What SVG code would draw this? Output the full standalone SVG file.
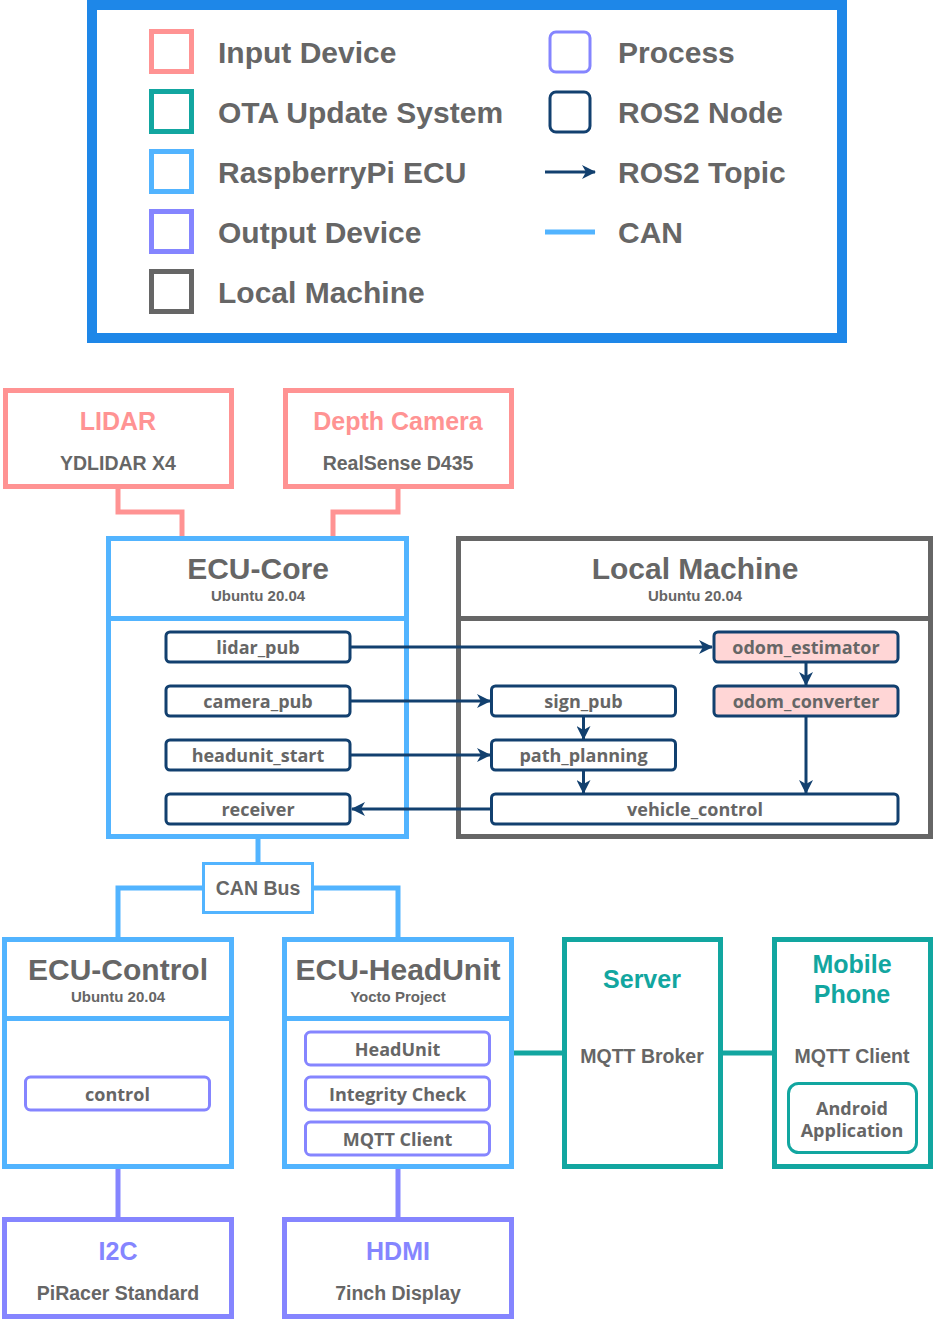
<svg xmlns="http://www.w3.org/2000/svg" width="935" height="1321" viewBox="0 0 935 1321">
<style>
.bg{fill:#ffffff}
.t{font-family:"Liberation Sans",Arial,sans-serif;font-weight:bold;fill:#666666;text-anchor:middle}
.lg{font-family:"Liberation Sans",Arial,sans-serif;font-weight:bold;fill:#666666;font-size:30px}
.n{font-family:"Open Sans","Noto Sans",sans-serif;font-weight:700;fill:#666666;text-anchor:middle;font-size:18px}
.pink{fill:#fff;stroke:#ff9393;stroke-width:5}
.blue{fill:#fff;stroke:#52b4ff;stroke-width:5}
.gray{fill:#fff;stroke:#666666;stroke-width:5}
.teal{fill:#fff;stroke:#12a6a0;stroke-width:5}
.purp{fill:#fff;stroke:#8585ff;stroke-width:5}
.node{fill:#fff;stroke:#12406f;stroke-width:3}
.nodep{fill:#ffd6d6;stroke:#12406f;stroke-width:3}
.proc{fill:#fff;stroke:#8585ff;stroke-width:3}
.arr{fill:none;stroke:#12406f;stroke-width:3;marker-end:url(#ah)}
.lp{fill:none;stroke:#ff9393;stroke-width:5}
.lb{fill:none;stroke:#52b4ff;stroke-width:5}
.lt{fill:none;stroke:#12a6a0;stroke-width:5}
.lu{fill:none;stroke:#8585ff;stroke-width:5}
</style>
<defs>
<marker id="ah" viewBox="0 0 14 14" refX="13" refY="7" markerWidth="14" markerHeight="14" markerUnits="userSpaceOnUse" orient="auto">
<path d="M0,0 L14,7 L0,14 L4,7 z" fill="#12406f"/>
</marker>
</defs>
<rect class="bg" x="0" y="0" width="935" height="1321"/>

<g id="legend">
<rect x="92" y="5" width="750" height="333" fill="#fff" stroke="#1e87e8" stroke-width="10"/>
<rect x="151.5" y="31.5" width="40" height="40" fill="#fff" stroke="#ff9393" stroke-width="5"/>
<text class="lg" x="218" y="63">Input Device</text>
<rect x="151.5" y="91.5" width="40" height="40" fill="#fff" stroke="#12a6a0" stroke-width="5"/>
<text class="lg" x="218" y="123">OTA Update System</text>
<rect x="151.5" y="151.5" width="40" height="40" fill="#fff" stroke="#52b4ff" stroke-width="5"/>
<text class="lg" x="218" y="183">RaspberryPi ECU</text>
<rect x="151.5" y="211.5" width="40" height="40" fill="#fff" stroke="#8585ff" stroke-width="5"/>
<text class="lg" x="218" y="243">Output Device</text>
<rect x="151.5" y="271.5" width="40" height="40" fill="#fff" stroke="#666666" stroke-width="5"/>
<text class="lg" x="218" y="303">Local Machine</text>
<rect x="550" y="32" width="40" height="40" rx="6" fill="#fff" stroke="#8585ff" stroke-width="3"/>
<text class="lg" x="618" y="63">Process</text>
<rect x="550" y="92" width="40" height="40" rx="6" fill="#fff" stroke="#12406f" stroke-width="3"/>
<text class="lg" x="618" y="123">ROS2 Node</text>
<line x1="545" y1="172" x2="595" y2="172" class="arr"/>
<text class="lg" x="618" y="183">ROS2 Topic</text>
<line x1="545" y1="232" x2="595" y2="232" stroke="#52b4ff" stroke-width="5"/>
<text class="lg" x="618" y="243">CAN</text>
</g>

<g id="connectors">
<path class="lp" d="M118,488 V512 H182 V538"/>
<path class="lp" d="M398,488 V512 H333 V538"/>
<path class="lb" d="M258,838 V863"/>
<path class="lb" d="M203,888 H118 V938"/>
<path class="lb" d="M313,888 H398 V938"/>
<path class="lt" d="M513,1053 H563"/>
<path class="lt" d="M722,1053 H773"/>
<path class="lu" d="M118,1168 V1218"/>
<path class="lu" d="M398,1168 V1218"/>
</g>

<g id="lidar">
<rect class="pink" x="5.5" y="390.5" width="226" height="96"/>
<text class="t" x="118" y="430" font-size="25" style="fill:#ff9393">LIDAR</text>
<text class="t" x="118" y="470" font-size="19.5">YDLIDAR X4</text>
</g>
<g id="depth-camera">
<rect class="pink" x="285.5" y="390.5" width="226" height="96"/>
<text class="t" x="398" y="430" font-size="25" style="fill:#ff9393">Depth Camera</text>
<text class="t" x="398" y="470" font-size="19.5">RealSense D435</text>
</g>

<g id="ecu-core">
<rect class="blue" x="108.5" y="538.5" width="298" height="298"/>
<line x1="108.5" y1="618.5" x2="406.5" y2="618.5" stroke="#52b4ff" stroke-width="5"/>
<text class="t" x="258" y="579" font-size="30">ECU-Core</text>
<text class="t" x="258" y="601" font-size="15">Ubuntu 20.04</text>
</g>
<g id="local-machine">
<rect class="gray" x="458.5" y="538.5" width="472" height="298"/>
<line x1="458.5" y1="618.5" x2="930.5" y2="618.5" stroke="#666666" stroke-width="5"/>
<text class="t" x="695" y="579" font-size="30">Local Machine</text>
<text class="t" x="695" y="601" font-size="15">Ubuntu 20.04</text>
</g>

<g id="lidar_pub"><rect class="node" x="166" y="632" width="184" height="30" rx="4"/><text class="n" x="258" y="654">lidar_pub</text></g>
<g id="camera_pub"><rect class="node" x="166" y="686" width="184" height="30" rx="4"/><text class="n" x="258" y="708">camera_pub</text></g>
<g id="headunit_start"><rect class="node" x="166" y="740" width="184" height="30" rx="4"/><text class="n" x="258" y="762">headunit_start</text></g>
<g id="receiver"><rect class="node" x="166" y="794" width="184" height="30" rx="4"/><text class="n" x="258" y="816">receiver</text></g>
<g id="odom_estimator"><rect class="nodep" x="714" y="632" width="184" height="30" rx="4"/><text class="n" x="806" y="654">odom_estimator</text></g>
<g id="odom_converter"><rect class="nodep" x="714" y="686" width="184" height="30" rx="4"/><text class="n" x="806" y="708">odom_converter</text></g>
<g id="sign_pub"><rect class="node" x="491.5" y="686" width="184" height="30" rx="4"/><text class="n" x="583.5" y="708">sign_pub</text></g>
<g id="path_planning"><rect class="node" x="491.5" y="740" width="184" height="30" rx="4"/><text class="n" x="583.5" y="762">path_planning</text></g>
<g id="vehicle_control"><rect class="node" x="491.5" y="794" width="406.5" height="30" rx="4"/><text class="n" x="695" y="816">vehicle_control</text></g>

<g id="topics">
<path class="arr" d="M350,647 H712"/>
<path class="arr" d="M350,701 H490"/>
<path class="arr" d="M350,755 H490"/>
<path class="arr" d="M491.5,809 H352"/>
<path class="arr" d="M806,662 V685"/>
<path class="arr" d="M806,716 V793"/>
<path class="arr" d="M583.5,716 V739"/>
<path class="arr" d="M583.5,770 V793"/>
</g>

<g id="can-bus">
<rect x="203.5" y="863.5" width="109" height="49" fill="#fff" stroke="#52b4ff" stroke-width="3"/>
<text class="t" x="258" y="895" font-size="19.5">CAN Bus</text>
</g>

<g id="ecu-control">
<rect class="blue" x="4.5" y="939.5" width="227" height="227"/>
<line x1="4.5" y1="1018.5" x2="231.5" y2="1018.5" stroke="#52b4ff" stroke-width="5"/>
<text class="t" x="118" y="979.5" font-size="30">ECU-Control</text>
<text class="t" x="118" y="1001.5" font-size="15">Ubuntu 20.04</text>
</g>
<g id="control"><rect class="proc" x="25.5" y="1077" width="184" height="33" rx="5"/><text class="n" x="117.5" y="1101">control</text></g>

<g id="ecu-headunit">
<rect class="blue" x="284.5" y="939.5" width="227" height="227"/>
<line x1="284.5" y1="1018.5" x2="511.5" y2="1018.5" stroke="#52b4ff" stroke-width="5"/>
<text class="t" x="398" y="979.5" font-size="30">ECU-HeadUnit</text>
<text class="t" x="398" y="1001.5" font-size="15">Yocto Project</text>
</g>
<g id="headunit"><rect class="proc" x="305.5" y="1032" width="184" height="33" rx="5"/><text class="n" x="397.5" y="1056">HeadUnit</text></g>
<g id="integrity-check"><rect class="proc" x="305.5" y="1077" width="184" height="33" rx="5"/><text class="n" x="397.5" y="1101">Integrity Check</text></g>
<g id="mqtt-client"><rect class="proc" x="305.5" y="1122" width="184" height="33" rx="5"/><text class="n" x="397.5" y="1146">MQTT Client</text></g>

<g id="server">
<rect class="teal" x="564.5" y="939.5" width="156" height="227"/>
<text class="t" x="642" y="988" font-size="25" style="fill:#12a6a0">Server</text>
<text class="t" x="642" y="1063" font-size="19.5">MQTT Broker</text>
</g>
<g id="mobile-phone">
<rect class="teal" x="774.5" y="939.5" width="156" height="227"/>
<text class="t" x="852" y="973" font-size="25" style="fill:#12a6a0">Mobile</text>
<text class="t" x="852" y="1003" font-size="25" style="fill:#12a6a0">Phone</text>
<text class="t" x="852" y="1063" font-size="19.5">MQTT Client</text>
</g>
<g id="android-app">
<rect x="788.5" y="1083.5" width="128" height="69" rx="10" fill="#fff" stroke="#12a6a0" stroke-width="3"/>
<text class="n" x="852" y="1115">Android</text>
<text class="n" x="852" y="1137">Application</text>
</g>

<g id="i2c">
<rect class="purp" x="4.5" y="1219.5" width="227" height="97"/>
<text class="t" x="118" y="1260" font-size="25" style="fill:#8585ff">I2C</text>
<text class="t" x="118" y="1300" font-size="19.5">PiRacer Standard</text>
</g>
<g id="hdmi">
<rect class="purp" x="284.5" y="1219.5" width="227" height="97"/>
<text class="t" x="398" y="1260" font-size="25" style="fill:#8585ff">HDMI</text>
<text class="t" x="398" y="1300" font-size="19.5">7inch Display</text>
</g>
</svg>
